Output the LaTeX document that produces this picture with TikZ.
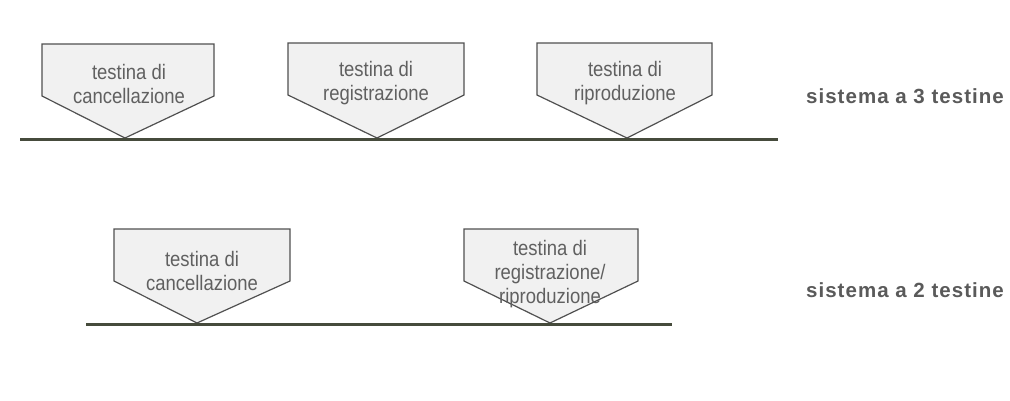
\documentclass[tikz,border=0pt]{standalone}
\usepackage{fontspec}
\setmainfont{Liberation Sans}
\newfontfamily\headfont[FakeStretch=0.88]{Liberation Sans}
\newfontfamily\labfont[LetterSpace=5]{Liberation Sans}
\definecolor{boxline}{HTML}{505050}
\definecolor{boxfill}{HTML}{F1F1F1}
\definecolor{tape}{HTML}{464B3C}
\definecolor{txt}{HTML}{606060}
\definecolor{labtxt}{HTML}{5A5A5A}
\tikzset{
  headbox/.style={draw=boxline, fill=boxfill, line width=1.2pt, line join=miter},
  headtext/.style={align=center, inner sep=0pt, text=txt, font=\headfont\fontsize{21}{24}\selectfont},
  tapeline/.style={draw=tape, line width=3pt},
  syslabel/.style={inner sep=0pt, text=labtxt, font=\labfont\bfseries\fontsize{20.5}{24}\selectfont}
}
% #1 name, #2 xl, #3 xr, #4 top, #5 shoulder, #6 xtip, #7 ytip
\newcommand{\headshape}[7]{%
  \coordinate (#1-tip) at (#6,#7);
  \path[headbox] (#2,#4) -- (#3,#4) -- (#3,#5) -- (#1-tip) -- (#2,#5) -- cycle;
}
\begin{document}
\begin{tikzpicture}[x=1pt,y=-1pt]
\useasboundingbox[fill=white] (0,0) rectangle (1010,400);
% top row: 3 heads
\headshape{h1}{42}{214}{44}{96}{125}{138}
\headshape{h2}{288}{464}{43}{95}{377}{138}
\headshape{h3}{537}{712}{43}{95}{627}{138}
\node[headtext] (t1) at (129,84) {testina di\\cancellazione};
\node[headtext] (t2) at (376,83) {testina di\\registrazione};
\node[headtext] (t3) at (625,83) {testina di\\riproduzione};
\coordinate (tapeA1) at (20,139);
\coordinate (tapeA2) at (778,139);
\draw[tapeline] (tapeA1) -- (tapeA2);
\node[syslabel] (s3) at (905,96) {sistema a 3 testine};
% bottom row: 2 heads
\headshape{h4}{114}{290}{229}{281}{197}{323}
\headshape{h5}{464}{638}{229}{281}{550}{323}
\node[headtext] (t4) at (202,271) {testina di\\cancellazione};
\node[headtext] (t5) at (550,274) {testina di\\registrazione/\\riproduzione};
\coordinate (tapeB1) at (86,324);
\coordinate (tapeB2) at (672,324);
\draw[tapeline] (tapeB1) -- (tapeB2);
\node[syslabel] (s2) at (905,290) {sistema a 2 testine};
\end{tikzpicture}
\end{document}
